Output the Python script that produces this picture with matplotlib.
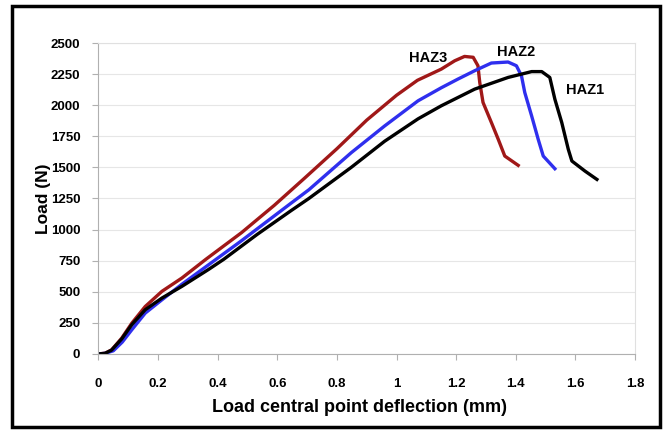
import matplotlib
matplotlib.use("Agg")
import matplotlib.pyplot as plt
from matplotlib.patches import Rectangle

# load / deflection curves
haz3_x = [0, 0.022, 0.044, 0.078, 0.112, 0.157, 0.213, 0.28, 0.36, 0.48, 0.59, 0.69, 0.8,
          0.9, 1.0, 1.07, 1.15, 1.195, 1.228, 1.257, 1.273, 1.279, 1.29, 1.318, 1.341,
          1.363, 1.408]
haz3_y = [0, 5, 32, 126, 247, 381, 503, 610, 760, 975, 1195, 1410, 1650,
          1880, 2080, 2200, 2290, 2357, 2392, 2385, 2317, 2183, 2022, 1861, 1726,
          1591, 1516]

haz2_x = [0, 0.022, 0.05, 0.08, 0.112, 0.157, 0.213, 0.28, 0.36, 0.48, 0.59, 0.645, 0.706,
          0.848, 0.96, 1.072, 1.15, 1.206, 1.262, 1.318, 1.374, 1.402, 1.419, 1.43, 1.453,
          1.475, 1.492, 1.531]
haz2_y = [0, 4, 25, 95, 194, 328, 435, 560, 700, 910, 1110, 1210, 1320,
          1618, 1833, 2035, 2140, 2210, 2277, 2339, 2347, 2317, 2236, 2102, 1914,
          1726, 1591, 1489]

haz1_x = [0, 0.022, 0.044, 0.078, 0.112, 0.157, 0.213, 0.28, 0.37, 0.42, 0.532, 0.645,
          0.706, 0.848, 0.96, 1.072, 1.15, 1.262, 1.374, 1.453, 1.487, 1.514, 1.531, 1.554,
          1.576, 1.588, 1.632, 1.672]
haz1_y = [0, 4, 30, 120, 235, 355, 449, 543, 680, 760, 960, 1150,
          1250, 1500, 1710, 1890, 1995, 2129, 2223, 2270, 2270, 2223, 2048, 1861,
          1645, 1551, 1470, 1403]

labels = ["HAZ3", "HAZ2", "HAZ1"]
label_pos = [(1.106, 2379), (1.402, 2427), (1.631, 2121)]

xticks = [0, 0.2, 0.4, 0.6, 0.8, 1, 1.2, 1.4, 1.6, 1.8]
xticklabels = ["0", "0.2", "0.4", "0.6", "0.8", "1", "1.2", "1.4", "1.6", "1.8"]
yticks = list(range(0, 2501, 250))

plt.rcParams['font.family'] = ['Liberation Sans', 'DejaVu Sans']
plt.rcParams['font.weight'] = 'bold'

fig = plt.figure(figsize=(6.65, 4.3), dpi=100)
ax = fig.add_axes([0.148, 0.177, 0.807, 0.723])

ax.plot(haz3_x, haz3_y, color='#a01818', lw=2.4, solid_joinstyle='round')
ax.plot(haz2_x, haz2_y, color='#2f2fee', lw=2.4, solid_joinstyle='round')
ax.plot(haz1_x, haz1_y, color='black', lw=2.4, solid_joinstyle='round')

for txt, (lx, ly) in zip(labels, label_pos):
    ax.text(lx, ly, txt, ha='center', va='center', fontsize=10.5, fontweight='bold')

ax.set_xlim(0, 1.8)
ax.set_ylim(0, 2500)
ax.set_xticks(xticks)
ax.set_xticklabels(xticklabels)
ax.set_yticks(yticks)
ax.yaxis.grid(True, color='#e6e6e6', lw=0.8)
ax.set_axisbelow(True)

for s in ['left', 'bottom']:
    ax.spines[s].set_color('#b0b0b0')
for s in ['top', 'right']:
    ax.spines[s].set_color('#e0e0e0')
ax.tick_params(axis='both', colors='#b0b0b0', labelcolor='black', length=4, labelsize=9.5)
ax.tick_params(axis='x', pad=13)
ax.tick_params(axis='y', pad=9)

ax.set_xlabel('Load central point deflection (mm)', fontsize=13, fontweight='bold', labelpad=3)
ax.set_ylabel('Load (N)', fontsize=12.5, fontweight='bold', labelpad=0)
ax.xaxis.set_label_coords(0.487, -0.145)

# black frame around the whole chart
fig.patches.append(Rectangle((0.018, 0.007), 0.974, 0.979, transform=fig.transFigure,
                             fill=False, edgecolor='black', lw=2.5))

fig.savefig('out.png', dpi=100)
